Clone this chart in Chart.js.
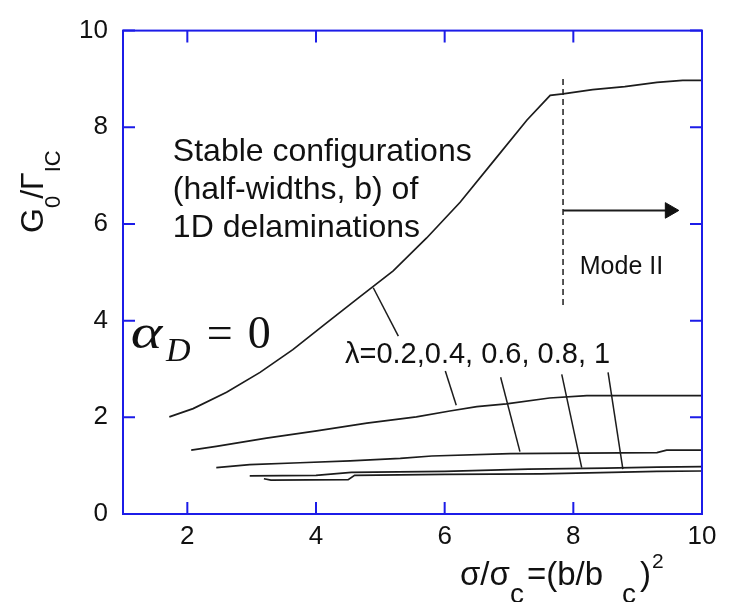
<!DOCTYPE html>
<html>
<head>
<meta charset="utf-8">
<script src="https://cdn.jsdelivr.net/npm/chart.js@4.4.0/dist/chart.umd.min.js"></script>
<style>
  html, body { margin: 0; padding: 0; background: #fff; }
  #wrap { width: 733px; height: 602px; }
</style>
</head>
<body>
<div id="wrap"><canvas id="chart" width="733" height="602"></canvas></div>
<script>
const xTicks = [2, 4, 6, 8, 10];
const yTicks = [0, 2, 4, 6, 8, 10];

// lambda = 0.2 (upper curve)
const l02X = [1.72, 2.09, 2.61, 3.13, 3.64, 4.16, 4.68, 5.20, 5.72, 6.24, 6.76, 7.28, 7.64, 7.84, 8.3, 8.8, 9.3, 9.7, 10];
const l02Y = [2.01, 2.18, 2.52, 2.93, 3.40, 3.95, 4.49, 5.03, 5.71, 6.45, 7.30, 8.15, 8.66, 8.69, 8.78, 8.84, 8.93, 8.97, 8.97];
// lambda = 0.4
const l04X = [2.06, 2.45, 3.23, 4.01, 4.79, 5.56, 6.08, 6.5, 6.96, 7.63, 8.21, 9.0, 10];
const l04Y = [1.32, 1.40, 1.57, 1.72, 1.88, 2.01, 2.13, 2.22, 2.28, 2.40, 2.45, 2.45, 2.45];
// lambda = 0.6
const l06X = [2.45, 2.97, 3.75, 4.53, 5.31, 5.8, 7.02, 9.30, 9.45, 10];
const l06Y = [0.96, 1.02, 1.06, 1.10, 1.15, 1.20, 1.25, 1.27, 1.32, 1.32];
// lambda = 0.8
const l08X = [2.97, 4.0, 4.55, 6.0, 7.3, 8.5, 9.3, 10];
const l08Y = [0.79, 0.80, 0.86, 0.88, 0.93, 0.95, 0.97, 0.98];
// lambda = 1
const l10X = [3.19, 3.3, 4.5, 4.6, 6.0, 7.5, 8.6, 9.3, 10];
const l10Y = [0.73, 0.70, 0.71, 0.80, 0.82, 0.83, 0.86, 0.88, 0.89];

// leader lines from the lambda label to each curve
const leaders = [
    [[4.89, 4.68], [5.28, 3.68]],
    [[6.01, 2.96], [6.18, 2.25]],
    [[6.87, 2.83], [7.17, 1.29]],
    [[7.82, 2.89], [8.13, 0.96]],
    [[8.54, 2.93], [8.77, 0.93]]
];
const modeX = [7.84, 7.84];
const modeY = [9.0, 4.29];
const arrowX = [7.84, 9.5];
const arrowY = [6.28, 6.28];

const frameColor = 'rgb(28,28,232)';
const ink = '#1c1c1c';
const sans = '"Liberation Sans", Arial, sans-serif';
const serif = '"Liberation Serif", "Times New Roman", serif';

const line = (xs, ys, extra = {}) => ({
    data: xs.map((v, i) => ({ x: v, y: ys[i] })),
    showLine: true,
    borderColor: ink,
    borderWidth: 1.7,
    pointRadius: 0,
    tension: 0,
    ...extra
});

const datasets = [
    line(l02X, l02Y),
    line(l04X, l04Y),
    line(l06X, l06Y),
    line(l08X, l08Y),
    line(l10X, l10Y),
    ...leaders.map(p => line([p[0][0], p[1][0]], [p[0][1], p[1][1]], { borderWidth: 1.5 })),
    line(modeX, modeY, { borderDash: [6, 4], borderWidth: 1.5 }),
    line(arrowX, arrowY, {
        borderWidth: 2,
        pointRadius: [0, 9],
        pointStyle: 'triangle',
        rotation: 90,
        pointBackgroundColor: '#111',
        pointBorderColor: '#111',
        pointBorderWidth: 1
    })
];

const annotate = {
    id: 'annotate',
    afterDraw(chart) {
        const { ctx, chartArea: a, scales: { x, y } } = chart;
        ctx.save();
        // frame with inward ticks on all sides
        ctx.strokeStyle = frameColor;
        ctx.lineWidth = 2;
        ctx.strokeRect(a.left, a.top, a.right - a.left, a.bottom - a.top);
        const tl = 12;
        ctx.beginPath();
        xTicks.forEach(v => {
            const px = x.getPixelForValue(v);
            ctx.moveTo(px, a.bottom); ctx.lineTo(px, a.bottom - tl);
            ctx.moveTo(px, a.top); ctx.lineTo(px, a.top + tl);
        });
        yTicks.forEach(v => {
            const py = y.getPixelForValue(v);
            ctx.moveTo(a.left, py); ctx.lineTo(a.left + tl, py);
            ctx.moveTo(a.right, py); ctx.lineTo(a.right - tl, py);
        });
        ctx.stroke();

        ctx.fillStyle = '#111';
        ctx.textBaseline = 'alphabetic';
        ctx.textAlign = 'left';
        const put = (s, xv, yv, font) => {
            ctx.font = font;
            ctx.fillText(s, x.getPixelForValue(xv), y.getPixelForValue(yv));
        };
        put('Stable configurations', 1.775, 7.30, '32px ' + sans);
        put('(half-widths, b) of', 1.775, 6.52, '32px ' + sans);
        put('1D delaminations', 1.775, 5.74, '32px ' + sans);
        put('Mode II', 8.1, 4.97, '25px ' + sans);
        put('\u03bb=0.2,0.4, 0.6, 0.8, 1', 4.45, 3.13, '29px ' + sans);
        put('D', 1.67, 3.17, 'italic 34px ' + serif);
        put('=', 2.30, 3.44, '46px ' + serif);
        put('0', 2.94, 3.44, '46px ' + serif);
        // wide math alpha
        ctx.save();
        ctx.translate(x.getPixelForValue(1.12), y.getPixelForValue(3.44));
        ctx.scale(1.25, 1);
        ctx.font = 'italic 48px ' + serif;
        ctx.fillText('\u03b1', 0, 0);
        ctx.restore();

        // x axis title: sigma/sigma_c = (b/b_c)^2
        const bx = 460, by = 585;
        ctx.font = '33px ' + sans;
        ctx.fillText('\u03c3/\u03c3', bx, by);
        ctx.fillText('=(b/b', bx + 67, by);
        ctx.fillText(')', bx + 180, by);
        ctx.font = '28px ' + sans;
        ctx.fillText('c', bx + 50, by + 18);
        ctx.fillText('c', bx + 162, by + 18);
        ctx.font = '21px ' + sans;
        ctx.fillText('2', bx + 192, by - 17);

        // y axis title: G_0 / Gamma_IC
        ctx.translate(43, 233);
        ctx.rotate(-Math.PI / 2);
        ctx.font = '32px ' + sans;
        const wG = ctx.measureText('G').width;
        ctx.fillText('G', 0, 0);
        ctx.font = '22px ' + sans;
        const w0 = ctx.measureText('0').width;
        ctx.fillText('0', wG, 17);
        ctx.font = '32px ' + sans;
        const wS = ctx.measureText('/\u0393').width;
        ctx.fillText('/\u0393', wG + w0 - 3, 0);
        ctx.font = '22px ' + sans;
        ctx.fillText('IC', wG + w0 - 3 + wS, 17);
        ctx.restore();
    }
};

new Chart(document.getElementById('chart'), {
    type: 'scatter',
    data: { datasets },
    options: {
        responsive: false,
        animation: false,
        layout: { padding: { top: 22, right: 31, left: 0, bottom: 0 } },
        plugins: { legend: { display: false }, tooltip: { enabled: false } },
        scales: {
            x: {
                type: 'linear',
                min: 1,
                max: 10,
                afterFit: s => { s.height = 88; },
                afterBuildTicks: s => { s.ticks = xTicks.map(v => ({ value: v })); },
                grid: { display: false, drawTicks: false },
                border: { display: false },
                ticks: { color: '#111', padding: 7, maxRotation: 0, font: { family: sans, size: 26 } }
            },
            y: {
                type: 'linear',
                min: 0,
                max: 10,
                afterFit: s => { s.width = 123; },
                afterBuildTicks: s => { s.ticks = yTicks.map(v => ({ value: v })); },
                grid: { display: false, drawTicks: false },
                border: { display: false },
                ticks: { color: '#111', padding: 15, font: { family: sans, size: 26 } }
            }
        }
    },
    plugins: [annotate]
});
</script>
</body>
</html>
